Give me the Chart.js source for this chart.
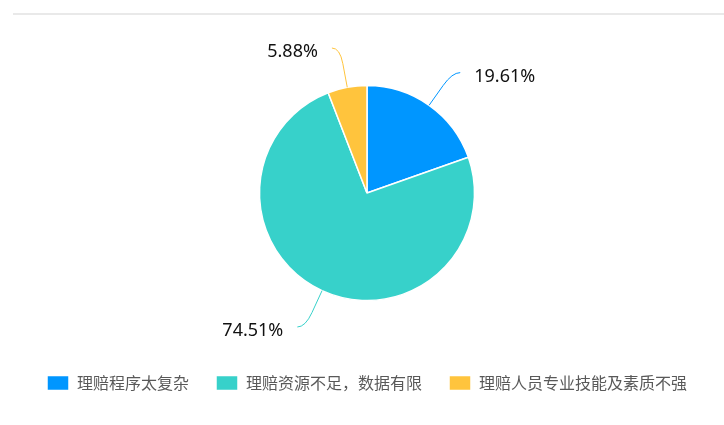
<!DOCTYPE html>
<html lang="zh">
<head>
    <meta charset="UTF-8">
    <title>理赔问题占比</title>
    <script src="https://cdn.jsdelivr.net/npm/chart.js"></script>
    <style>
        body { margin: 0; background: #fff; }
        #wrap { position: relative; width: 724px; height: 425px; }
        #topLine { position: absolute; left: 13px; right: 0; top: 13px; border-top: 2px solid #e9e9e9; }
    </style>
</head>
<body>
    <div id="wrap">
        <div id="topLine"></div>
        <canvas id="pieChart" width="724" height="425"></canvas>
    </div>

    <script>
        // 数据
        const categories = ['理赔程序太复杂', '理赔资源不足，数据有限', '理赔人员专业技能及素质不强'];
        const shares = [19.61, 74.51, 5.88];   // 百分比
        const colors = ['#0096ff', '#37d1ca', '#ffc43d'];

        // 引导线 + 百分比标签
        const leaderLabels = {
            id: 'leaderLabels',
            afterDatasetsDraw(chart) {
                const ctx = chart.ctx;
                const meta = chart.getDatasetMeta(0);
                const len1 = 40, len2 = 8, gap = 14;
                ctx.save();
                meta.data.forEach((arc, i) => {
                    const mid = (arc.startAngle + arc.endAngle) / 2;
                    const dx = Math.cos(mid), dy = Math.sin(mid);
                    const r = arc.outerRadius;
                    const x0 = arc.x + dx * r, y0 = arc.y + dy * r;
                    const x1 = x0 + dx * len1, y1 = y0 + dy * len1;
                    const side = dx >= 0 ? 1 : -1;
                    const x2 = x1 + side * len2, y2 = y1;

                    ctx.strokeStyle = colors[i];
                    ctx.lineWidth = 1;
                    ctx.beginPath();
                    ctx.moveTo(x0, y0);
                    ctx.lineTo(x0 + dx * len1 * 0.6, y0 + dy * len1 * 0.6);
                    ctx.quadraticCurveTo(x1, y1, x2, y2);
                    ctx.stroke();

                    ctx.fillStyle = '#111';
                    ctx.font = '18px "Noto Sans", sans-serif';
                    ctx.textBaseline = 'middle';
                    ctx.textAlign = side > 0 ? 'left' : 'right';
                    ctx.fillText(shares[i].toFixed(2) + '%', x2 + side * gap, y2 + 4);
                });
                ctx.restore();
            }
        };

        const ctx = document.getElementById('pieChart').getContext('2d');
        new Chart(ctx, {
            type: 'pie',
            data: {
                labels: categories,
                datasets: [{
                    data: shares,
                    backgroundColor: colors,
                    borderColor: '#fff',
                    borderWidth: 1.5
                }]
            },
            options: {
                responsive: false,
                animation: false,
                radius: 107.5,
                layout: {
                    padding: { top: 38, bottom: 24, left: 10, right: 0 }
                },
                plugins: {
                    tooltip: { enabled: false },
                    legend: {
                        position: 'bottom',
                        labels: {
                            boxWidth: 22,
                            boxHeight: 15,
                            padding: 27,
                            color: '#595959',
                            font: { family: '"Noto Sans CJK SC", sans-serif', size: 16 }
                        }
                    }
                }
            },
            plugins: [leaderLabels]
        });
    </script>
</body>
</html>
